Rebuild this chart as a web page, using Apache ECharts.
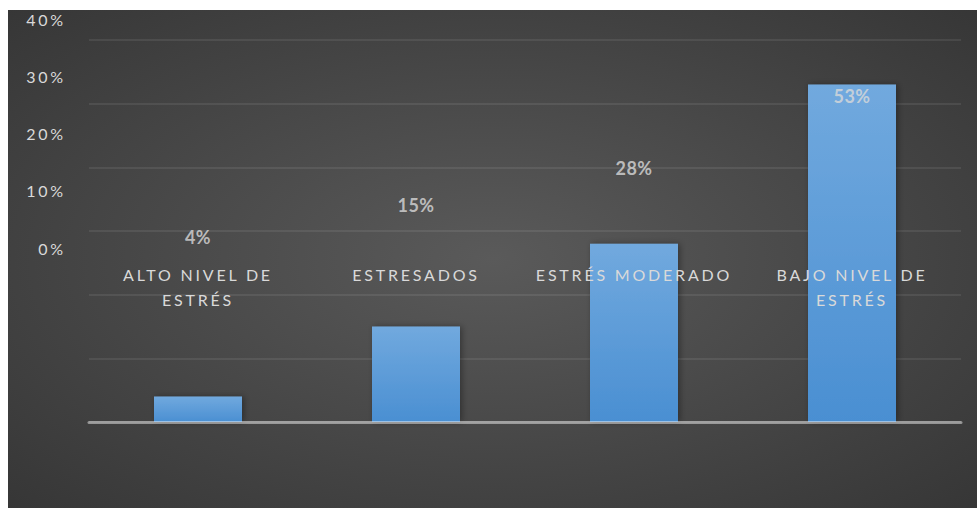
<!DOCTYPE html>
<html>
<head>
<meta charset="utf-8">
<script src="https://cdn.jsdelivr.net/npm/echarts@6/dist/echarts.min.js"></script>
<style>
  html, body { margin: 0; padding: 0; background: #fff; }
  #chart { position: absolute; left: 8px; top: 10px; width: 969px; height: 498px; }
  #chart text { letter-spacing: 2.8px; }
  #chart text[style*="bold"] { letter-spacing: 0.5px; }
</style>
</head>
<body>
<div id="chart"></div>
<script>
// datos
var categories = ['ALTO NIVEL DE\nESTRÉS', 'ESTRESADOS', 'ESTRÉS MODERADO', 'BAJO NIVEL DE\nESTRÉS'];
var values = [4, 15, 28, 53];
var yTickLabels = ['0%', '10%', '20%', '30%', '40%'];

var myChart = echarts.init(document.getElementById('chart'), null, {renderer: 'svg'});

var txt = '#d9d9d9';
var font = 'Lato';

option = {
    backgroundColor: {
        type: 'radial', x: 0.5, y: 0.5, r: 1.05,
        colorStops: [
            {offset: 0, color: '#5a5a5a'},
            {offset: 1, color: '#252525'}
        ]
    },
    grid: [
        // barras
        {left: 81, right: 16, top: 30, bottom: 86},
        // etiquetas de ejes desplazadas
        {left: 81, right: 16, top: 9, bottom: 260}
    ],
    xAxis: [
        {
            gridIndex: 0, type: 'category', data: categories, z: 5,
            axisLine: {lineStyle: {color: 'rgba(255,255,255,0.45)', width: 3}},
            axisTick: {show: false},
            axisLabel: {show: false}
        },
        {
            gridIndex: 1, type: 'category', data: categories, z: 10,
            axisLine: {show: false},
            axisTick: {show: false},
            axisLabel: {
                color: txt, fontFamily: font, fontSize: 16,
                lineHeight: 25, margin: 14, interval: 0
            }
        }
    ],
    yAxis: [
        {
            gridIndex: 0, type: 'value', min: 0, max: 60, interval: 10,
            axisLine: {show: false},
            axisTick: {show: false},
            axisLabel: {show: false},
            splitLine: {lineStyle: {color: 'rgba(255,255,255,0.08)', width: 2}}
        },
        {
            gridIndex: 1, type: 'value', min: 0, max: 40, interval: 10,
            axisLine: {show: false},
            axisTick: {show: false},
            splitLine: {show: false},
            axisLabel: {
                color: txt, fontFamily: font, fontSize: 16, margin: 23,
                formatter: function (v) { return yTickLabels[v / 10]; }
            }
        },
        {
            gridIndex: 1, type: 'value', min: 0, max: 80, show: false
        }
    ],
    series: [
        {
            type: 'bar',
            xAxisIndex: 0, yAxisIndex: 0,
            data: values,
            barWidth: 88,
            itemStyle: {
                color: {
                    type: 'linear', x: 0, y: 0, x2: 0, y2: 1,
                    colorStops: [
                        {offset: 0, color: '#71a9de'},
                        {offset: 1, color: '#4a8fd2'}
                    ]
                },
                shadowBlur: 6,
                shadowColor: 'rgba(0,0,0,0.35)',
                shadowOffsetX: 2
            }
        },
        {
            type: 'scatter',
            xAxisIndex: 1, yAxisIndex: 2,
            data: values,
            symbolSize: 0,
            silent: true,
            z: 10,
            label: {
                show: true, position: 'inside',
                color: txt, fontFamily: font, fontWeight: 'bold', fontSize: 18,
                formatter: function (p) { return p.value + '%'; }
            }
        }
    ]
};

myChart.setOption(option, true);
</script>
</body>
</html>
